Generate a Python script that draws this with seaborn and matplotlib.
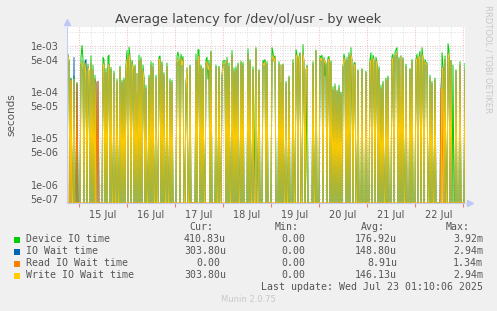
import matplotlib
matplotlib.use("Agg")
import matplotlib.pyplot as plt
import matplotlib.dates as mdates
from matplotlib.ticker import FixedLocator, LogLocator, NullFormatter, FuncFormatter
from matplotlib.patches import Rectangle
import numpy as np
import pandas as pd
import seaborn as sns

# 30 minute samples, values in microseconds, first sample Jul 14 18:00
start = "2025-07-14 18:00"

device_us = [
    700, 640, 470, 0, 200, 0, 0, 220, 0, 0, 160, 0,
    0, 0, 560, 1000, 520, 0, 480, 330, 0, 400, 110, 0,
    600, 0, 380, 0, 230, 0, 0, 0, 0, 0, 0, 0,
    560, 500, 0, 320, 0, 580, 620, 0, 340, 0, 0, 280,
    0, 0, 190, 0, 0, 360, 0, 180, 0, 200, 0, 380,
    780, 0, 920, 600, 0, 480, 350, 0, 380, 0, 95, 0,
    620, 0, 560, 0, 380, 200, 0, 140, 0, 0, 230, 0,
    450, 0, 420, 0, 0, 230, 0, 0, 560, 600, 0, 450,
    0, 260, 0, 0, 420, 0, 0, 190, 0, 180, 0, 0,
    0, 0, 600, 720, 560, 0, 650, 450, 580, 0, 0, 160,
    230, 0, 0, 380, 0, 0, 0, 0, 0, 650, 0, 820,
    800, 0, 380, 0, 330, 0, 0, 500, 560, 190, 480, 0,
    760, 0, 0, 0, 0, 380, 0, 0, 360, 0, 0, 220,
    460, 480, 470, 0, 560, 0, 420, 0, 0, 780, 0, 330,
    0, 350, 0, 420, 0, 0, 460, 0, 440, 0, 0, 0,
    0, 850, 0, 500, 0, 0, 350, 0, 30, 900, 0, 1.2,
    300, 0, 0, 0, 480, 430, 500, 0, 450, 0, 0, 0,
    0, 900, 700, 520, 600, 0, 0, 0, 450, 0, 160, 0,
    400, 0, 0, 170, 0, 0, 220, 0, 0, 0, 500, 0,
    0, 820, 620, 0, 560, 700, 0, 0, 1050, 200, 0, 2,
    380, 0, 0, 0, 0, 0, 450, 0, 0, 800, 0, 0,
    0, 600, 560, 620, 0, 560, 220, 430, 0, 550, 580, 0,
    460, 0, 130, 0, 150, 0, 110, 0, 140, 0, 100, 0,
    330, 650, 500, 0, 560, 0, 700, 0, 900, 90, 0, 420,
    430, 0, 0, 300, 0, 0, 0, 320, 0, 0, 0, 280,
    0, 0, 0, 500, 700, 0, 620, 520, 0, 560, 420, 0,
    350, 0, 140, 0, 170, 0, 0, 200, 0, 220, 0, 0,
    0, 580, 650, 0, 720, 800, 900, 0, 560, 0, 80, 0,
    550, 0, 0, 400, 0, 0, 0, 320, 0, 500, 0, 0,
    0, 500, 650, 0, 580, 750, 0, 900, 550, 0, 500, 430,
    420, 0, 0, 230, 0, 170, 0, 0, 200, 0, 0, 0,
    0, 0, 0, 700, 380, 0, 600, 0, 0, 1100, 800, 0,
    480, 0, 380, 0, 0, 300, 0, 0, 0, 450, 0, 0,
    0, 0, 410.83,
]

iowait_us = [
    680, 610, 430, 0, 190, 0, 0, 550, 0, 0, 150, 0,
    0, 0, 380, 450, 300, 0, 420, 500, 0, 350, 280, 0,
    420, 0, 300, 0, 190, 160, 0, 170, 0, 0, 0, 0,
    330, 420, 0, 260, 0, 350, 400, 0, 300, 0, 0, 250,
    0, 0, 170, 0, 0, 330, 0, 160, 0, 180, 0, 330,
    520, 0, 650, 480, 0, 420, 300, 0, 350, 0, 250, 0,
    450, 0, 500, 0, 300, 180, 0, 120, 0, 0, 200, 0,
    380, 0, 340, 0, 0, 200, 0, 0, 480, 520, 0, 400,
    0, 230, 0, 0, 350, 0, 0, 170, 0, 160, 0, 0,
    0, 0, 420, 520, 470, 0, 550, 380, 500, 0, 0, 140,
    330, 0, 0, 360, 0, 0, 0, 0, 0, 480, 0, 500,
    600, 0, 350, 0, 300, 0, 0, 420, 450, 300, 400, 0,
    700, 0, 0, 0, 0, 350, 0, 0, 330, 0, 0, 200,
    380, 430, 400, 0, 480, 0, 350, 0, 0, 620, 0, 280,
    0, 300, 0, 380, 0, 0, 420, 0, 380, 0, 0, 0,
    0, 650, 0, 450, 0, 0, 300, 0, 0, 820, 0, 0,
    280, 0, 0, 0, 420, 380, 450, 0, 400, 0, 0, 0,
    0, 500, 620, 450, 550, 0, 0, 0, 400, 0, 380, 0,
    380, 0, 0, 150, 0, 0, 200, 0, 0, 0, 420, 0,
    0, 650, 550, 0, 500, 620, 0, 0, 700, 450, 0, 300,
    350, 0, 0, 0, 0, 0, 400, 0, 0, 750, 0, 0,
    0, 520, 480, 550, 0, 500, 450, 380, 0, 480, 520, 0,
    420, 0, 110, 0, 130, 0, 100, 0, 120, 0, 90, 0,
    300, 550, 420, 0, 480, 0, 600, 0, 650, 500, 0, 350,
    400, 0, 0, 280, 0, 0, 0, 300, 0, 0, 0, 260,
    0, 0, 0, 420, 500, 0, 550, 450, 0, 480, 380, 0,
    300, 0, 120, 0, 150, 0, 0, 180, 0, 200, 0, 0,
    0, 480, 550, 0, 600, 650, 700, 0, 500, 0, 600, 0,
    500, 0, 0, 350, 0, 0, 0, 300, 0, 450, 0, 0,
    0, 450, 550, 0, 500, 600, 0, 650, 500, 0, 450, 400,
    380, 0, 0, 200, 0, 150, 0, 0, 180, 0, 0, 0,
    0, 0, 120, 350, 330, 0, 500, 0, 0, 700, 550, 0,
    450, 0, 0, 0, 0, 280, 0, 0, 0, 380, 0, 0,
    0, 0, 303.8,
]

read_us = [
    650, 0, 0, 0, 170, 0, 0, 0, 0, 0, 150, 0,
    0, 0, 0, 0, 0, 0, 0, 0, 0, 0, 0, 0,
    0, 0, 0, 0, 0, 160, 0, 170, 0, 0, 0, 0,
    0, 0, 0, 0, 0, 0, 0, 0, 0, 0, 0, 0,
    0, 0, 0, 0, 0, 0, 0, 0, 0, 0, 0, 0,
    0, 0, 0, 0, 0, 0, 0, 0, 0, 0, 0, 0,
    0, 0, 0, 0, 0, 0, 0, 0, 0, 0, 0, 0,
    0, 0, 0, 0, 0, 0, 0, 0, 0, 0, 0, 0,
    0, 0, 0, 0, 0, 0, 0, 0, 0, 0, 0, 0,
    0, 0, 0, 0, 0, 0, 0, 0, 0, 0, 0, 0,
    0, 0, 0, 0, 0, 0, 0, 0, 0, 0, 0, 0,
    0, 0, 0, 0, 0, 0, 0, 0, 0, 0, 0, 0,
    0, 0, 0, 0, 0, 0, 0, 0, 0, 0, 0, 0,
    0, 0, 0, 0, 0, 0, 0, 0, 0, 0, 0, 0,
    0, 0, 0, 0, 0, 0, 0, 0, 0, 0, 0, 0,
    0, 0, 0, 0, 0, 0, 0, 0, 0, 0, 0, 0,
    0, 0, 0, 0, 0, 0, 0, 0, 0, 0, 0, 0,
    0, 0, 0, 0, 0, 0, 0, 0, 0, 0, 0, 0,
    0, 0, 0, 0, 0, 0, 0, 0, 0, 0, 0, 0,
    0, 0, 0, 0, 0, 0, 0, 0, 0, 0, 0, 0,
    0, 0, 0, 0, 0, 0, 0, 0, 0, 0, 0, 0,
    0, 0, 0, 0, 0, 0, 0, 0, 0, 0, 0, 0,
    0, 0, 0, 0, 0, 0, 0, 0, 0, 0, 0, 0,
    0, 0, 0, 0, 0, 0, 0, 0, 0, 0, 0, 0,
    0, 0, 0, 0, 0, 0, 0, 0, 0, 0, 0, 0,
    0, 0, 0, 0, 0, 0, 0, 0, 0, 0, 0, 0,
    0, 0, 0, 0, 0, 0, 0, 0, 0, 0, 0, 0,
    0, 0, 0, 0, 0, 0, 0, 0, 0, 0, 0, 0,
    0, 0, 0, 0, 0, 0, 0, 0, 0, 0, 0, 0,
    0, 0, 0, 0, 0, 0, 0, 0, 0, 0, 0, 0,
    0, 0, 0, 0, 0, 0, 0, 0, 0, 0, 0, 0,
    0, 0, 120, 0, 110, 0, 0, 0, 0, 0, 0, 0,
    0, 0, 0, 0, 0, 0, 0, 0, 0, 0, 0, 0,
    0, 0, 0,
]

write_us = [
    520, 610, 430, 0, 180, 0, 0, 190, 0, 0, 0, 0,
    0, 0, 380, 450, 300, 0, 420, 260, 0, 350, 280, 0,
    420, 0, 300, 0, 190, 0, 0, 0, 0, 0, 0, 0,
    330, 420, 0, 260, 0, 350, 400, 0, 300, 0, 0, 250,
    0, 0, 170, 0, 0, 330, 0, 160, 0, 180, 0, 330,
    520, 0, 650, 480, 0, 420, 300, 0, 350, 0, 250, 0,
    450, 0, 500, 0, 300, 180, 0, 120, 0, 0, 200, 0,
    380, 0, 340, 0, 0, 200, 0, 0, 480, 520, 0, 400,
    0, 230, 0, 0, 350, 0, 0, 170, 0, 160, 0, 0,
    0, 0, 420, 520, 470, 0, 550, 380, 500, 0, 0, 140,
    330, 0, 0, 360, 0, 0, 0, 0, 0, 480, 0, 500,
    600, 0, 350, 0, 300, 0, 0, 420, 450, 300, 400, 0,
    700, 0, 0, 0, 0, 350, 0, 0, 330, 0, 0, 200,
    380, 430, 400, 0, 480, 0, 350, 0, 0, 620, 0, 280,
    0, 300, 0, 380, 0, 0, 420, 0, 380, 0, 0, 0,
    0, 650, 0, 450, 0, 0, 300, 0, 0, 820, 0, 0,
    280, 0, 0, 0, 420, 380, 450, 0, 400, 0, 0, 0,
    0, 500, 620, 450, 550, 0, 0, 0, 400, 0, 380, 0,
    380, 0, 0, 150, 0, 0, 200, 0, 0, 0, 420, 0,
    0, 650, 550, 0, 500, 620, 0, 0, 700, 450, 0, 300,
    350, 0, 0, 0, 0, 0, 400, 0, 0, 750, 0, 0,
    0, 520, 480, 550, 0, 500, 450, 380, 0, 480, 520, 0,
    420, 0, 110, 0, 130, 0, 100, 0, 120, 0, 90, 0,
    300, 550, 420, 0, 480, 0, 600, 0, 650, 500, 0, 350,
    400, 0, 0, 280, 0, 0, 0, 300, 0, 0, 0, 260,
    0, 0, 0, 420, 500, 0, 550, 450, 0, 480, 380, 0,
    300, 0, 120, 0, 150, 0, 0, 180, 0, 200, 0, 0,
    0, 480, 550, 0, 600, 650, 700, 0, 500, 0, 600, 0,
    500, 0, 0, 350, 0, 0, 0, 300, 0, 450, 0, 0,
    0, 450, 550, 0, 500, 600, 0, 650, 500, 0, 450, 400,
    380, 0, 0, 200, 0, 150, 0, 0, 180, 0, 0, 0,
    0, 0, 0, 350, 300, 0, 500, 0, 0, 700, 550, 0,
    450, 0, 0, 0, 0, 280, 0, 0, 0, 380, 0, 0,
    0, 0, 303.8,
]

series_names = ["Device IO time", "IO Wait time", "Read IO Wait time", "Write IO Wait time"]
series_colors = ["#00CC00", "#0066B3", "#FF8000", "#FFCC00"]
cur_vals = ["410.83u", "303.80u", "0.00", "303.80u"]
min_vals = ["0.00", "0.00", "0.00", "0.00"]
avg_vals = ["176.92u", "148.80u", "8.91u", "146.13u"]
max_vals = ["3.92m", "2.94m", "1.34m", "2.94m"]

y_ticks = [5e-7, 1e-6, 5e-6, 1e-5, 5e-5, 1e-4, 5e-4, 1e-3]
y_bottom, y_top = 4.1e-7, 2.5e-3

times = pd.date_range(start, periods=len(device_us), freq="30min")
frames = []
for name, vals in zip(series_names, [device_us, iowait_us, read_us, write_us]):
    # zeros sit on the bottom edge of the log axis, as rrdtool draws them
    sec = np.maximum(np.array(vals) * 1e-6, y_bottom)
    frames.append(pd.DataFrame({"time": times, "seconds": sec, "series": name}))
df = pd.concat(frames, ignore_index=True)

W, H = 497, 311
fig = plt.figure(figsize=(W / 100, H / 100), dpi=100, facecolor="#F0F0F0")
ax = fig.add_axes([67 / W, 108 / H, 398 / W, 176 / H])
ax.set_facecolor("white")

sns.lineplot(data=df, x="time", y="seconds", hue="series", hue_order=series_names,
             palette=dict(zip(series_names, series_colors)), estimator=None,
             linewidth=0.7, legend=False, ax=ax)

ax.set_yscale("log")
ax.set_ylim(y_bottom, y_top)
ax.set_xlim(times[0], times[-1])

txt = "#555555"
ax.yaxis.set_major_locator(FixedLocator(y_ticks))
ax.yaxis.set_major_formatter(FuncFormatter(lambda v, p: f"{v:.0e}"))
ax.yaxis.set_minor_locator(LogLocator(base=10, subs=(2, 3, 4, 6, 7, 8, 9), numticks=20))
ax.yaxis.set_minor_formatter(NullFormatter())
ax.tick_params(axis="y", which="major", length=0, labelsize=7, labelcolor=txt, pad=6)
ax.tick_params(axis="y", which="minor", length=0)

ax.xaxis.set_major_locator(mdates.HourLocator(byhour=[0]))
ax.xaxis.set_major_formatter(NullFormatter())
ax.xaxis.set_minor_locator(mdates.HourLocator(byhour=[6, 12, 18]))
ax.xaxis.set_minor_formatter(FuncFormatter(
    lambda v, p: mdates.num2date(v).strftime("%d Jul") if mdates.num2date(v).hour == 12 else ""))
ax.tick_params(axis="x", which="major", length=3, color="#E08080", width=0.8)
ax.tick_params(axis="x", which="minor", length=0, labelsize=7, labelcolor=txt, pad=5)

ax.set_xlabel("")
ax.set_ylabel("")
ax.grid(True, which="major", color="#E8A0A0", linestyle=(0, (1, 2)), linewidth=0.6)
ax.grid(True, which="minor", color="#D0D0D0", linestyle=(0, (1, 2)), linewidth=0.6)
ax.set_axisbelow(True)

for s in ["top", "right"]:
    ax.spines[s].set_visible(False)
for s in ["left", "bottom"]:
    ax.spines[s].set_color("#C8CCF0")
    ax.spines[s].set_linewidth(0.8)
ax.plot([0], [1.03], marker="^", color="#C0C8F8", markersize=5, transform=ax.transAxes, clip_on=False)
ax.plot([1.012], [0], marker=">", color="#C0C8F8", markersize=5, transform=ax.transAxes, clip_on=False)

def fx(x):
    return x / W

def fy(y):
    return 1 - y / H

fig.text(fx(248), fy(19), "Average latency for /dev/ol/usr - by week", ha="center", va="center",
         fontsize=9.3, color="#444444")
fig.text(fx(11), fy(115), "seconds", rotation=90, ha="center", va="center", fontsize=7.5, color=txt)
fig.text(fx(488), fy(5), "RRDTOOL / TOBI OETIKER", rotation=270, ha="center", va="top",
         fontsize=6, color="#C8C8C8")

mono = "DejaVu Sans Mono"
fs = 7.1
col_right = [226, 311, 397, 483]
head_right = [213, 299, 385, 470]
for hx, h in zip(head_right, ["Cur:", "Min:", "Avg:", "Max:"]):
    fig.text(fx(hx), fy(227.5), h, ha="right", va="center", family=mono, fontsize=fs, color=txt)

for r, name in enumerate(series_names):
    yy = 239.5 + r * 12
    fig.patches.append(Rectangle((fx(14), fy(yy + 3)), 6 / W, 6 / H, transform=fig.transFigure,
                                 facecolor=series_colors[r], edgecolor="none"))
    fig.text(fx(26), fy(yy), name, ha="left", va="center", family=mono, fontsize=fs, color=txt)
    for c, vals in enumerate([cur_vals, min_vals, avg_vals, max_vals]):
        v = vals[r]
        xr = col_right[c] if v[-1] in "um" else col_right[c] - 6
        fig.text(fx(xr), fy(yy), v, ha="right", va="center", family=mono, fontsize=fs, color=txt)

fig.text(fx(483), fy(287.5), "Last update: Wed Jul 23 01:10:06 2025", ha="right", va="center",
         family=mono, fontsize=fs, color=txt)
fig.text(fx(248), fy(299), "Munin 2.0.75", ha="center", va="center", fontsize=6, color="#C8C8C8")

fig.savefig("out.png", dpi=100, facecolor=fig.get_facecolor())
